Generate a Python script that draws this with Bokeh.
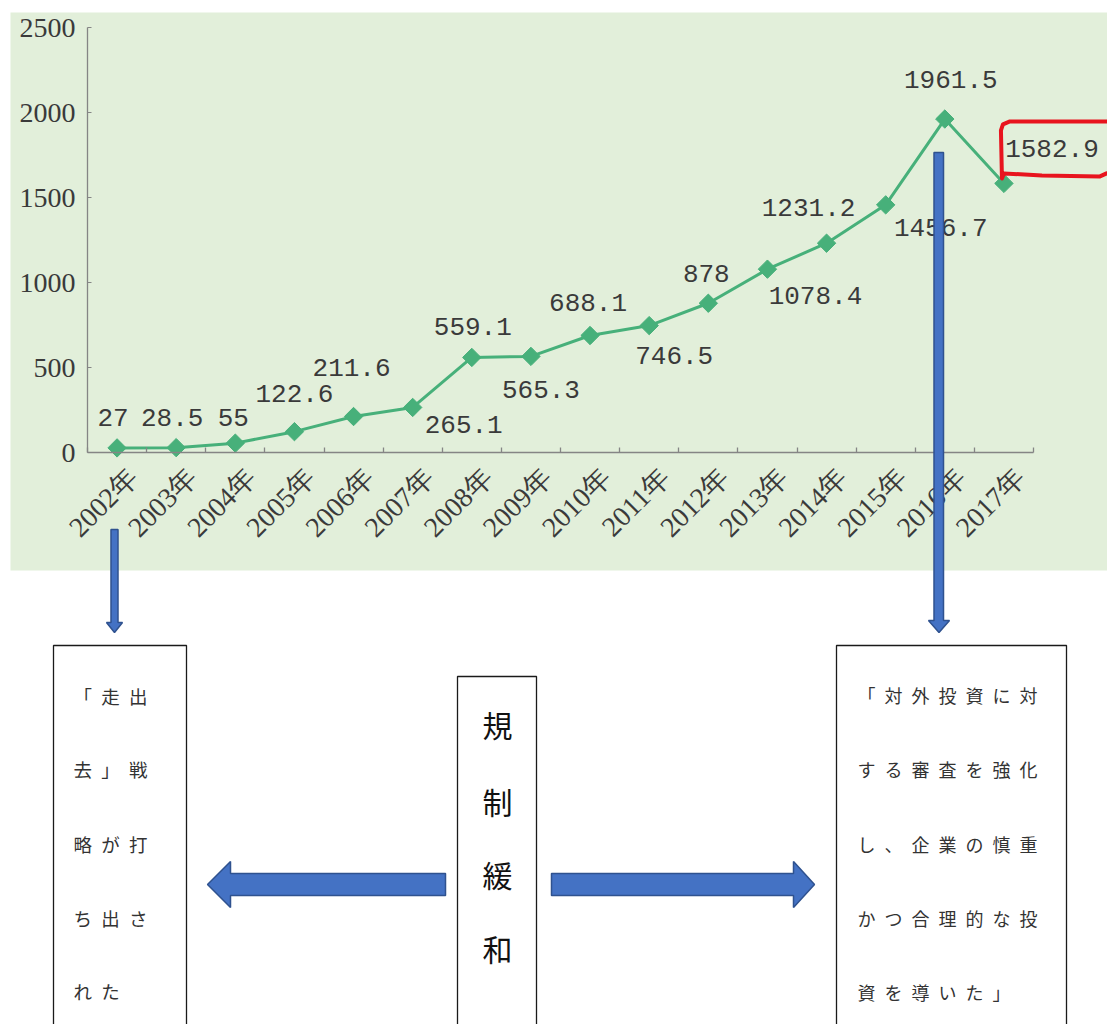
import math

from bokeh.core.properties import value
from bokeh.embed import file_html
from bokeh.models import FixedTicker, LinearAxis, Range1d
from bokeh.plotting import figure
from bokeh.resources import INLINE

# ---- data -------------------------------------------------------------
years = ["2002年", "2003年", "2004年", "2005年", "2006年", "2007年", "2008年", "2009年",
         "2010年", "2011年", "2012年", "2013年", "2014年", "2015年", "2016年", "2017年"]
amounts = [27, 28.5, 55, 122.6, 211.6, 265.1, 559.1, 565.3,
           688.1, 746.5, 878, 1078.4, 1231.2, 1456.7, 1961.5, 1582.9]
y_ticks = [0, 500, 1000, 1500, 2000, 2500]

left_note = ["「走出", "去」戦", "略が打", "ち出さ", "れた"]
center_note = ["規", "制", "緩", "和"]
right_note = ["「対外投資に対", "する審査を強化", "し、企業の慎重", "かつ合理的な投", "資を導いた」"]

# ---- label placement (screen pixel offsets from each point) -----------
label_dx = [-4, -4, -2, 0, -2, 51, 1, 10, -2, 25, -2, 48, -18, 55, 6, 48]
label_dy = [-30, -30, -26, -38, -49, 17, -31, 33, -33, 30, -30, 26, -36, 23, -40, -35]

# ---- page geometry ----------------------------------------------------
W, H = 1107, 1024
CAT_W = 59.125          # width of one year slot in pixels
X0 = 116.5625           # pixel centre of the first year
Y0 = 452.0              # pixel row of value 0
PX_PER_UNIT = 0.17      # 500 units = 85 px

GREEN_BG = "#e2efda"
LINE_GREEN = "#47b07a"
ARROW_FILL = "#4472c4"
ARROW_EDGE = "#2f528f"
TEXT = "#3a3a3a"
AXIS = "#858585"
EN_SPACE = "\u2002"

x_range = Range1d((0 - X0) / CAT_W, (W - X0) / CAT_W)
y_range = Range1d((Y0 - H) / PX_PER_UNIT, Y0 / PX_PER_UNIT)

p = figure(width=W, height=H, x_range=x_range, y_range=y_range,
           x_axis_type=None, y_axis_type=None, toolbar_location=None,
           output_backend="svg", min_border=0, outline_line_color=None,
           background_fill_color="white", border_fill_color="white")
p.extra_x_ranges = {"page": Range1d(0, W)}
p.extra_y_ranges = {"page": Range1d(H, 0)}

# chart panel background
p.quad(left=10, right=W, top=12, bottom=570, fill_color=GREEN_BG, line_color=None,
       x_range_name="page", y_range_name="page", level="underlay")

# ---- axes -------------------------------------------------------------
n = len(years)
idx = list(range(n))

yax = LinearAxis(fixed_location=-0.5, bounds=(0, 2500),
                 ticker=FixedTicker(ticks=y_ticks))
yax.axis_line_color = AXIS
yax.axis_line_width = 1.3
yax.major_tick_in = 4
yax.major_tick_out = 0
yax.major_tick_line_color = AXIS
yax.minor_tick_line_color = None
yax.major_label_standoff = 12
yax.major_label_text_font = "Liberation Serif"
yax.major_label_text_font_size = "28px"
yax.major_label_text_color = TEXT
p.add_layout(yax, "left")

# category axis: tick marks sit on the boundaries between years
bounds = [i - 0.5 for i in range(n + 1)]
xax = LinearAxis(fixed_location=0, bounds=(-0.5, n - 0.5), ticker=FixedTicker(ticks=bounds))
xax.major_label_overrides = {b: "" for b in bounds}
xax.axis_line_color = AXIS
xax.axis_line_width = 1.3
xax.major_tick_in = 5
xax.major_tick_out = 0
xax.major_tick_line_color = AXIS
xax.major_tick_line_width = 1.3
xax.minor_tick_line_color = None
p.add_layout(xax, "below")

# year labels, slanted under each slot
p.text(idx, [0] * n, text=years, angle=math.pi / 4, x_offset=16, y_offset=20,
       text_align="right", text_baseline="middle",
       text_font=value("Liberation Serif"), text_font_size="28px", text_color=TEXT)

# ---- series -----------------------------------------------------------
p.line(idx, amounts, line_color=LINE_GREEN, line_width=3)
p.scatter(idx, amounts, marker="square", size=13, angle=math.pi / 4,
          fill_color=LINE_GREEN, line_color=LINE_GREEN)

labels = [f"{v:g}" for v in amounts]
p.text(idx, amounts, text=labels, x_offset=label_dx, y_offset=label_dy,
       text_align="center", text_baseline="middle",
       text_font=value("Liberation Mono"), text_font_size="26px", text_color=TEXT)

# red highlight around the latest value
lx = X0 + CAT_W * (n - 1) + label_dx[-1]
ly = Y0 - PX_PER_UNIT * amounts[-1] + label_dy[-1]
hx = [W - 1, lx + 48, lx - 10, lx - 48, lx - 50, lx - 51, lx - 49, lx - 42, W]
hy = [ly + 25, ly + 28, ly + 27, ly + 25, ly + 30, ly - 18, ly - 24, ly - 27, ly - 27]
p.line(hx, hy, line_color="#e8141e", line_width=4, line_join="round", line_cap="round",
       x_range_name="page", y_range_name="page", level="overlay")

# ---- notes below the chart -------------------------------------------
box_kw = dict(fill_color="white", line_color="#1a1a1a", line_width=1.3,
              x_range_name="page", y_range_name="page")
p.quad(left=[53, 457, 836], right=[186, 536, 1066], top=[645, 676, 645],
       bottom=[1040, 1040, 1040], **box_kw)

arrow_kw = dict(fill_color=ARROW_FILL, line_color=ARROW_EDGE, line_width=1.5,
                x_range_name="page", y_range_name="page", level="overlay")
p.patches(
    xs=[
        [110.5, 117.5, 117.5, 122, 114, 106, 110.5],
        [933.5, 943, 943, 949, 938.5, 928, 933.5],
        [207, 230, 230, 445, 445, 230, 230],
        [551, 793, 793, 814, 793, 793, 551],
    ],
    ys=[
        [529, 529, 622, 622, 632, 622, 622],
        [152, 152, 620, 620, 632, 620, 620],
        [884, 861, 873, 873, 895, 895, 907],
        [873, 873, 861, 884, 907, 895, 895],
    ],
    **arrow_kw,
)

note_font = value("Noto Sans CJK JP")
p.text(x=[73] * len(left_note), y=[695, 768, 843, 917, 990],
       text=[EN_SPACE.join(s) for s in left_note], text_align="left", text_baseline="middle",
       text_font=note_font, text_font_size="18.5px", text_color="#333333",
       x_range_name="page", y_range_name="page")
p.text(x=[497] * len(center_note), y=[723, 800, 873, 947], text=center_note,
       text_align="center", text_baseline="middle",
       text_font=note_font, text_font_size="30px", text_color="#111111",
       x_range_name="page", y_range_name="page")
p.text(x=[857] * len(right_note), y=[694, 768, 843, 917, 991],
       text=[EN_SPACE.join(s) for s in right_note], text_align="left", text_baseline="middle",
       text_font=note_font, text_font_size="18px", text_color="#333333",
       x_range_name="page", y_range_name="page")

open("out.html", "w").write(file_html(p, INLINE))
